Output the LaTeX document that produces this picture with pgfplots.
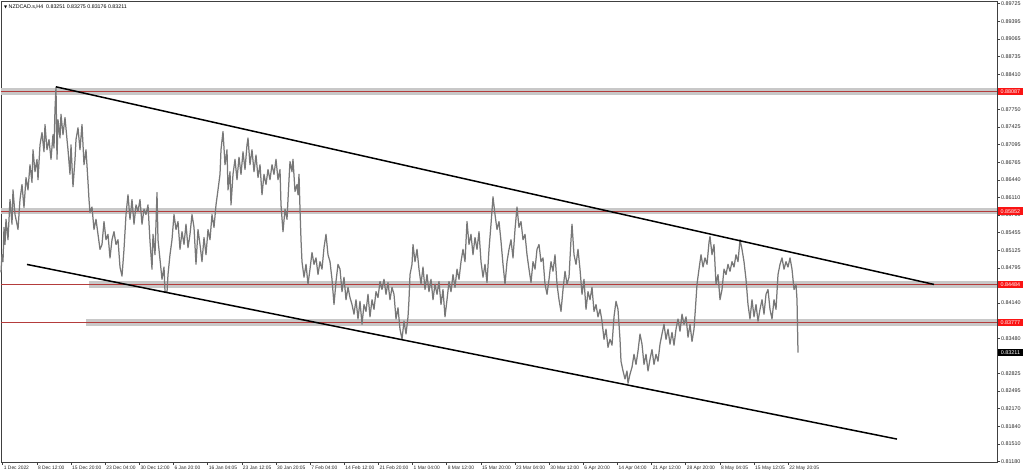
\documentclass[border=0pt]{standalone}
\usepackage{pgfplots}
\pgfplotsset{compat=1.18}
\usepackage{pgfplotstable}
\usepackage{fontspec}
\setmainfont{Liberation Sans}
\newfontfamily\symfont{DejaVu Sans}
\definecolor{band}{RGB}{200,200,200}
\definecolor{lvl}{RGB}{180,60,60}
\definecolor{pricecol}{RGB}{120,120,120}
\definecolor{redlab}{RGB}{250,20,20}

\pgfplotstableread{
x y
1 0.8471
2 0.8504
3 0.8491
4 0.8555
5 0.8523
6 0.8570
8 0.8532
10 0.8607
12 0.8561
13 0.8625
15 0.8579
17 0.8561
18 0.8551
20 0.8607
22 0.8635
24 0.8592
26 0.8648
28 0.8625
30 0.8672
32 0.8639
33 0.8700
35 0.8659
37 0.8682
38 0.8644
40 0.8709
42 0.8732
44 0.8696
45 0.8747
47 0.8700
49 0.8719
51 0.8682
53 0.8728
54 0.8703
55 0.8775
56 0.8817
57 0.8682
58 0.8756
60 0.8722
61 0.8766
63 0.8728
65 0.8760
67 0.8719
68 0.8700
70 0.8654
71 0.8709
73 0.8631
75 0.8682
76 0.8719
78 0.8741
80 0.8700
82 0.8747
84 0.8672
86 0.8700
88 0.8640
89 0.8607
90 0.8583
92 0.8593
94 0.8551
96 0.8570
98 0.8542
100 0.8514
102 0.8523
104 0.8566
106 0.8532
108 0.8542
110 0.8498
112 0.8532
114 0.8547
116 0.8523
118 0.8532
120 0.8481
122 0.8464
124 0.8514
126 0.8579
128 0.8616
130 0.8570
132 0.8607
134 0.8561
136 0.8597
138 0.8585
140 0.8607
142 0.8561
144 0.8589
146 0.8579
148 0.8597
150 0.8529
152 0.8477
153 0.8542
155 0.8504
157 0.8620
158 0.8532
160 0.8495
162 0.8458
164 0.8481
165 0.8435
167 0.8434
168 0.8467
170 0.8504
172 0.8532
174 0.8579
176 0.8551
178 0.8566
180 0.8514
182 0.8547
184 0.8523
186 0.8561
188 0.8517
190 0.8542
192 0.8579
194 0.8555
196 0.8486
198 0.8551
200 0.8523
202 0.8491
204 0.8536
206 0.8504
208 0.8551
210 0.8532
212 0.8579
214 0.8555
216 0.8597
218 0.8625
220 0.8654
221 0.8700
223 0.8734
225 0.8672
227 0.8700
228 0.8625
230 0.8659
231 0.8597
233 0.8654
235 0.8682
237 0.8644
239 0.8686
241 0.8654
243 0.8696
245 0.8663
247 0.8709
248 0.8722
250 0.8672
252 0.8700
254 0.8659
256 0.8690
258 0.8648
260 0.8672
262 0.8616
264 0.8654
266 0.8635
268 0.8663
270 0.8644
272 0.8672
274 0.8654
276 0.8682
278 0.8644
280 0.8663
281 0.8597
283 0.8547
285 0.8589
287 0.8570
289 0.8644
290 0.8678
292 0.8659
293 0.8682
295 0.8622
297 0.8635
298 0.8616
299 0.8654
300 0.8589
301 0.8532
302 0.8491
304 0.8462
306 0.8486
308 0.8449
310 0.8477
312 0.8508
314 0.8486
316 0.8498
318 0.8467
320 0.8491
322 0.8477
324 0.8517
326 0.8542
328 0.8504
330 0.8491
332 0.8458
334 0.8411
336 0.8454
338 0.8486
340 0.8477
342 0.8435
344 0.8462
346 0.8420
348 0.8443
350 0.8424
352 0.8411
354 0.8393
356 0.8420
358 0.8384
360 0.8417
362 0.8374
364 0.8411
366 0.8398
368 0.8430
370 0.8388
372 0.8420
374 0.8402
376 0.8435
378 0.8424
380 0.8454
382 0.8439
384 0.8458
386 0.8430
388 0.8452
390 0.8420
392 0.8443
394 0.8430
396 0.8384
398 0.8405
400 0.8365
402 0.8346
404 0.8380
406 0.8356
408 0.8388
409 0.8420
410 0.8467
412 0.8486
413 0.8523
415 0.8491
417 0.8514
419 0.8477
421 0.8449
423 0.8481
425 0.8439
427 0.8467
429 0.8435
431 0.8458
433 0.8420
435 0.8449
437 0.8430
439 0.8454
441 0.8411
443 0.8439
445 0.8388
447 0.8420
449 0.8454
451 0.8435
453 0.8467
455 0.8443
457 0.8477
459 0.8458
461 0.8491
463 0.8514
465 0.8491
467 0.8566
469 0.8523
471 0.8542
473 0.8504
475 0.8536
477 0.8514
479 0.8547
481 0.8491
483 0.8462
485 0.8486
487 0.8452
489 0.8514
491 0.8561
493 0.8612
495 0.8579
497 0.8551
499 0.8566
501 0.8529
503 0.8486
505 0.8449
507 0.8491
509 0.8514
511 0.8532
513 0.8498
515 0.8551
517 0.8593
519 0.8555
521 0.8566
523 0.8532
525 0.8542
527 0.8504
529 0.8477
531 0.8452
533 0.8491
535 0.8477
537 0.8514
539 0.8523
541 0.8491
543 0.8498
545 0.8449
547 0.8430
549 0.8458
551 0.8491
553 0.8473
555 0.8504
557 0.8449
559 0.8420
561 0.8398
563 0.8439
565 0.8473
567 0.8449
569 0.8462
571 0.8532
572 0.8561
574 0.8504
576 0.8486
578 0.8514
580 0.8477
582 0.8430
584 0.8458
586 0.8402
588 0.8435
590 0.8420
592 0.8443
594 0.8398
596 0.8411
598 0.8388
600 0.8402
602 0.8380
604 0.8346
606 0.8365
608 0.8331
610 0.8346
612 0.8335
614 0.8388
616 0.8417
618 0.8402
620 0.8346
621 0.8305
623 0.8287
625 0.8272
627 0.8287
628 0.8264
630 0.8281
632 0.8294
634 0.8318
636 0.8299
638 0.8324
640 0.8356
642 0.8337
644 0.8299
646 0.8318
648 0.8287
650 0.8309
652 0.8327
654 0.8299
656 0.8318
658 0.8305
660 0.8337
662 0.8356
664 0.8374
666 0.8346
668 0.8365
670 0.8337
672 0.8359
674 0.8335
676 0.8365
678 0.8384
680 0.8361
682 0.8393
684 0.8374
686 0.8388
688 0.8350
690 0.8374
692 0.8342
694 0.8365
696 0.8420
697 0.8449
699 0.8477
701 0.8504
703 0.8481
705 0.8498
707 0.8486
709 0.8527
710 0.8538
712 0.8504
714 0.8523
716 0.8449
718 0.8467
720 0.8420
722 0.8439
724 0.8477
726 0.8467
728 0.8486
730 0.8473
732 0.8491
734 0.8481
736 0.8504
738 0.8491
740 0.8532
742 0.8514
744 0.8491
746 0.8458
748 0.8411
750 0.8384
752 0.8420
754 0.8388
756 0.8411
758 0.8380
760 0.8402
762 0.8420
764 0.8393
766 0.8430
768 0.8439
770 0.8402
772 0.8384
774 0.8420
776 0.8402
778 0.8467
780 0.8486
782 0.8498
784 0.8477
786 0.8491
788 0.8481
790 0.8498
792 0.8477
794 0.8439
796 0.8449
797 0.8420
798 0.83211
}\pricetable

\begin{document}
\begin{tikzpicture}
\useasboundingbox (-1pt,-13pt) rectangle (1023pt,462pt);
\begin{axis}[
  scale only axis, width=996pt, height=461pt,
  xmin=1, xmax=997, ymin=0.8117, ymax=0.89776,
  clip=false,
  axis line style={draw=black!75, line width=0.6pt},
  tick style={draw=black!75, line width=0.5pt},
  major tick length=3pt, tick align=outside,
  xtick pos=bottom, ytick pos=right, yticklabel pos=right,
  scaled y ticks=false, scaled x ticks=false,
  xtick={2.7,36.85,71,105.15,139.3,173.45,207.6,241.75,275.9,310.05,344.2,378.35,412.5,446.65,480.8,514.95,549.1,583.25,617.4,651.55,685.7,719.85,754,788.15},
  xticklabels={1 Dec 2022,8 Dec 12:00,15 Dec 20:00,23 Dec 04:00,30 Dec 12:00,6 Jan 20:00,16 Jan 04:05,23 Jan 12:05,30 Jan 20:05,7 Feb 04:00,14 Feb 12:00,21 Feb 20:00,1 Mar 04:00,8 Mar 12:00,15 Mar 20:00,23 Mar 04:00,30 Mar 12:00,6 Apr 20:00,14 Apr 04:00,21 Apr 12:00,28 Apr 20:00,8 May 04:05,15 May 12:05,22 May 20:05},
  x tick label style={anchor=north west, font=\fontsize{4.9}{6}\selectfont, text=black!85, inner sep=1pt, yshift=0.3pt},
  ytick={0.89725,0.893964,0.890677,0.887391,0.884104,0.877531,0.874245,0.870958,0.867672,0.864385,0.861099,0.857812,0.854526,0.851239,0.847953,0.841380,0.834807,0.828234,0.824947,0.821661,0.818374,0.815088,0.811801},
  yticklabels={0.89725,0.89395,0.89065,0.88735,0.88410,0.87750,0.87425,0.87095,0.86765,0.86440,0.86110,0.85780,0.85455,0.85125,0.84795,0.84140,0.83480,0.82825,0.82495,0.82170,0.81840,0.81510,0.81180},
  y tick label style={anchor=west, font=\fontsize{5.4}{6}\selectfont, text=black!85, inner sep=1pt},
]
% support / resistance bands
\addplot[band, line width=6.5pt, forget plot] coordinates {(1,0.88087) (997,0.88087)};
\addplot[band, line width=6.5pt, forget plot] coordinates {(1,0.85852) (997,0.85852)};
\addplot[band, line width=6.5pt, forget plot] coordinates {(89,0.84484) (997,0.84484)};
\addplot[band, line width=6.5pt, forget plot] coordinates {(86,0.83777) (997,0.83777)};
\addplot[lvl, line width=0.4pt, forget plot] coordinates {(1,0.88087) (997,0.88087)};
\addplot[lvl, line width=0.4pt, forget plot] coordinates {(1,0.85852) (997,0.85852)};
\addplot[lvl, line width=0.4pt, forget plot] coordinates {(1,0.84484) (997,0.84484)};
\addplot[lvl, line width=0.4pt, forget plot] coordinates {(1,0.83777) (997,0.83777)};
% price
\addplot[pricecol, line width=1.25pt, line join=round] table[x=x,y=y] {\pricetable};
% channel
\addplot[black, line width=1.5pt] coordinates {(56,0.88174) (934,0.84485)};
\addplot[black, line width=1.5pt] coordinates {(27,0.84858) (897,0.81598)};
% price labels
\node[fill=redlab, text=white, anchor=west, inner sep=0pt, minimum height=7.5pt, minimum width=25.5pt, font=\fontsize{5.4}{6}\selectfont] at (axis cs:997.5,0.88087) {0.88087};
\node[fill=redlab, text=white, anchor=west, inner sep=0pt, minimum height=7.5pt, minimum width=25.5pt, font=\fontsize{5.4}{6}\selectfont] at (axis cs:997.5,0.85852) {0.85852};
\node[fill=redlab, text=white, anchor=west, inner sep=0pt, minimum height=7.5pt, minimum width=25.5pt, font=\fontsize{5.4}{6}\selectfont] at (axis cs:997.5,0.84484) {0.84484};
\node[fill=redlab, text=white, anchor=west, inner sep=0pt, minimum height=7.5pt, minimum width=25.5pt, font=\fontsize{5.4}{6}\selectfont] at (axis cs:997.5,0.83777) {0.83777};
\node[fill=black, text=white, anchor=west, inner sep=0pt, minimum height=7.5pt, minimum width=25.5pt, font=\fontsize{5.4}{6}\selectfont] at (axis cs:997.5,0.83211) {0.83211};
% title
\node[anchor=west, inner sep=0pt, font=\fontsize{5.3}{6}\selectfont] at ([xshift=3pt,yshift=-5.5pt]rel axis cs:0,1) {{\symfont\fontsize{4}{5}\selectfont ▼}\ NZDCAD.s,H4\ \ 0.83251 0.83275 0.83176 0.83211};
\end{axis}
\end{tikzpicture}
\end{document}
